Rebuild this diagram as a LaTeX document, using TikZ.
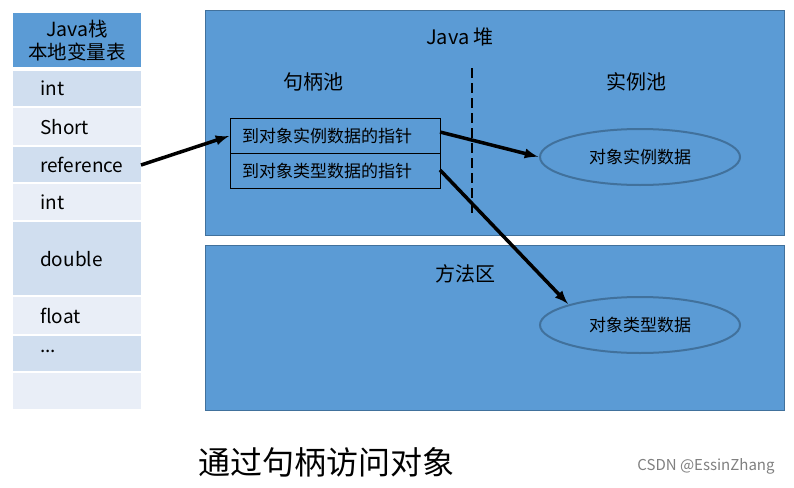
\documentclass[tikz,border=0pt]{standalone}
\usepackage{fontspec}
\setmainfont{Noto Sans CJK SC}
\usetikzlibrary{shapes.geometric}
\definecolor{hb}{HTML}{5B9BD5}
\definecolor{hd}{HTML}{41719C}
\definecolor{rA}{HTML}{D0DEEF}
\definecolor{rB}{HTML}{E9EEF7}
\begin{document}
\begin{tikzpicture}[x=1pt,y=-1pt,
 row/.style={anchor=north west,inner sep=0pt,minimum width=128pt,text width=110pt,align=left,font=\fontsize{19}{21}\selectfont},
 lab/.style={font=\fontsize{20}{22}\selectfont,text=black},
 hcell/.style={draw=black,fill=hb,minimum width=210pt,minimum height=35pt,text width=200pt,align=left,inner sep=0pt,font=\fontsize{17}{19}\selectfont},
 ell/.style={ellipse,draw=hd,line width=2pt,fill=hb,minimum width=200pt,minimum height=56pt,font=\fontsize{17}{19}\selectfont},
 arr/.style={-latex,line width=3.5pt,shorten >=1pt}]
\useasboundingbox (0,0) rectangle (794,487);
\fill[white] (0,0) rectangle (794,487);
% stack
\node[row,fill=hb,minimum height=54pt,align=center,text width=128pt,text=black,font=\fontsize{19.5}{23}\selectfont] (h) at (13,13) {Java栈\\本地变量表};
\node[row,fill=rA,minimum height=35pt] (r1) at (13,71) {\hspace*{18pt}int};
\node[row,fill=rB,minimum height=37pt] (r2) at (13,108) {\hspace*{18pt}Short};
\node[row,fill=rA,minimum height=35pt] (r3) at (13,147) {\hspace*{18pt}reference};
\node[row,fill=rB,minimum height=36pt] (r4) at (13,184) {\hspace*{18pt}int};
\node[row,fill=rA,minimum height=73pt] (r5) at (13,222) {\hspace*{18pt}double};
\node[row,fill=rB,minimum height=37pt] (r6) at (13,297) {\hspace*{18pt}float};
\node[row,fill=rA,minimum height=35pt] (r7) at (13,336) {\hspace*{18pt}\raisebox{4pt}{...}};
\node[row,fill=rB,minimum height=36pt] (r8) at (13,373) {};
% heap
\node[draw=hd,fill=hb,anchor=north west,minimum width=579pt,minimum height=225pt,inner sep=0pt] (heap) at (205,10) {};
\node[draw=hd,fill=hb,anchor=north west,minimum width=579pt,minimum height=165pt,inner sep=0pt] (meth) at (205,245) {};
\node[lab] (jh) at (460,37) {Java 堆};
\node[lab] (jbc) at (313,82) {句柄池};
\node[lab] (slc) at (636,82) {实例池};
\node[lab] (ffq) at (465,274) {方法区};
\draw[line width=1.5pt,dash pattern=on 10pt off 5pt] (472,68) -- (472,215);
\node[hcell,anchor=north west] (p1) at (230,118) {\hspace*{7pt}到对象实例数据的指针};
\node[hcell,anchor=north west] (p2) at (230,153) {\hspace*{7pt}到对象类型数据的指针};
\node[ell] (e1) at (640,157) {对象实例数据};
\node[ell] (e2) at (640,325) {对象类型数据};
\draw[arr] (141,165) -- (p1.west);
\draw[arr] (440,132) -- (e1.west);
\draw[arr] (440,170) -- (e2.north west);
\node[font=\fontsize{32}{36}\selectfont] (cap) at (326,462) {通过句柄访问对象};
\node[font=\fontsize{15}{17}\selectfont,text=gray] (wm) at (706,466) {CSDN @EssinZhang};
\end{tikzpicture}
\end{document}
